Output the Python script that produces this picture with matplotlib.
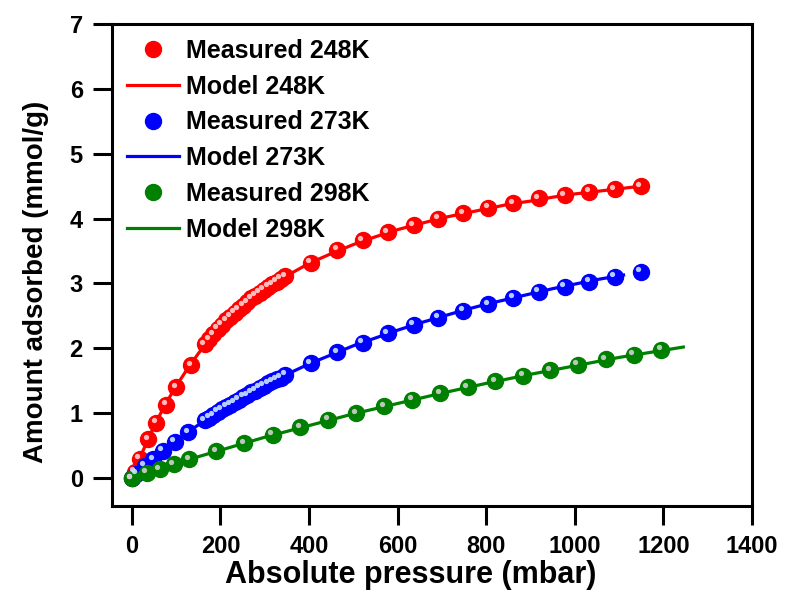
import matplotlib
matplotlib.use("Agg")
import matplotlib.pyplot as plt
from matplotlib.transforms import offset_copy

plt.rcParams['font.family'] = ['Liberation Sans', 'DejaVu Sans']
plt.rcParams['font.weight'] = 'bold'

# measured 248K
p248 = [0, 6, 18, 37, 55, 78, 100, 134,
        165, 175, 184, 194, 203, 213, 222, 232, 241, 251, 260, 270, 279, 289,
        298, 308, 317, 327, 336, 346,
        404, 464, 521, 578, 636, 692, 748, 804, 861, 918, 977, 1033, 1090, 1149]
q248 = [0, 0.10, 0.30, 0.60, 0.85, 1.13, 1.40, 1.74,
        2.06, 2.14, 2.22, 2.30, 2.36, 2.43, 2.49, 2.55, 2.60, 2.66, 2.71, 2.77, 2.81, 2.86,
        2.90, 2.95, 2.99, 3.03, 3.07, 3.11,
        3.32, 3.52, 3.67, 3.79, 3.90, 4.00, 4.08, 4.17, 4.24, 4.31, 4.36, 4.41, 4.45, 4.50]

# measured 273K
p273 = [0, 10, 29, 48, 70, 97, 127,
        165, 175, 184, 194, 203, 213, 222, 232, 241, 251, 260, 270, 279, 289,
        298, 308, 317, 327, 336, 346,
        404, 464, 521, 578, 636, 692, 748, 804, 861, 918, 977, 1033, 1090, 1149]
q273 = [0, 0.07, 0.19, 0.29, 0.42, 0.56, 0.71,
        0.89, 0.93, 0.97, 1.02, 1.06, 1.10, 1.13, 1.17, 1.21, 1.25, 1.28, 1.32, 1.35, 1.39,
        1.42, 1.46, 1.49, 1.52, 1.55, 1.59,
        1.77, 1.94, 2.09, 2.23, 2.36, 2.47, 2.58, 2.68, 2.78, 2.87, 2.95, 3.03, 3.10, 3.18]

# measured 298K
p298 = [0, 33, 63, 95, 130, 190, 254, 318, 380, 443, 507, 570, 633, 696, 758,
        820, 883, 945, 1007, 1070, 1133, 1195]
q298 = [0, 0.08, 0.14, 0.21, 0.29, 0.41, 0.54, 0.67, 0.78, 0.90, 1.00, 1.11, 1.21,
        1.31, 1.40, 1.49, 1.58, 1.66, 1.75, 1.83, 1.90, 1.98]

# model curves
m248_p = [0, 25, 50, 75, 100, 125, 150, 175, 200, 250, 300, 350, 400, 450, 500, 550,
          600, 650, 700, 750, 800, 850, 900, 950, 1000, 1050, 1100, 1150]
m248_q = [0, 0.42, 0.80, 1.13, 1.42, 1.68, 1.92, 2.14, 2.33, 2.65, 2.91, 3.12, 3.31,
          3.46, 3.60, 3.72, 3.83, 3.92, 4.01, 4.08, 4.15, 4.22, 4.27, 4.33, 4.38, 4.42, 4.46, 4.50]

m273_p = [0, 25, 50, 75, 100, 125, 150, 175, 200, 250, 300, 350, 400, 450, 500, 550,
          600, 650, 700, 750, 800, 850, 900, 950, 1000, 1050, 1110]
m273_q = [0, 0.16, 0.30, 0.44, 0.58, 0.70, 0.82, 0.93, 1.04, 1.25, 1.43, 1.60, 1.76,
          1.90, 2.04, 2.16, 2.28, 2.39, 2.49, 2.59, 2.68, 2.76, 2.84, 2.92, 2.99, 3.06, 3.13]

m298_p = [0, 50, 100, 150, 200, 300, 400, 500, 600, 700, 800, 900, 1000, 1100, 1200, 1245]
m298_q = [0, 0.11, 0.22, 0.33, 0.43, 0.63, 0.81, 0.99, 1.15, 1.31, 1.46, 1.60, 1.73,
          1.86, 1.97, 2.02]

series = [
    ("248K", p248, q248, m248_p, m248_q, "#ff0000", "#ffd0d0"),
    ("273K", p273, q273, m273_p, m273_q, "#0000ff", "#c8e4ff"),
    ("298K", p298, q298, m298_p, m298_q, "#008000", "#d0d0d0"),
]

fig = plt.figure(figsize=(7.88, 5.92), dpi=100)
ax = fig.add_axes([0.1421, 0.1453, 0.8122, 0.8142])

handles = []
labels = []
for name, px, qx, mp, mq, col, hl in series:
    ball, = ax.plot(px, qx, 'o', ms=11.5, color=col, mec=col, zorder=3)
    shine = offset_copy(ax.transData, fig=fig, x=-1.8, y=1.8, units='points')
    ax.plot(px, qx, 'o', ms=3.8, color=hl, mec='none', alpha=0.9,
            transform=shine, zorder=4)
    line, = ax.plot(mp, mq, '-', lw=2.3, color=col, zorder=2)
    handles += [ball, line]
    labels += ["Measured " + name, "Model " + name]

ax.set_xlim(-45, 1400)
ax.set_ylim(-0.43, 7)
ax.set_xticks(range(0, 1401, 200))
ax.set_yticks(range(0, 8))

for s in ax.spines.values():
    s.set_linewidth(2.2)
ax.tick_params(direction='out', length=14, width=2.2, labelsize=17, pad=7,
               top=False, right=False)
for t in ax.get_xticklabels() + ax.get_yticklabels():
    t.set_fontweight('bold')

ax.set_xlabel("Absolute pressure (mbar)", fontsize=22, fontweight='bold', labelpad=1)
ax.set_ylabel("Amount adsorbed (mmol/g)", fontsize=20, fontweight='bold', labelpad=15)
ax.xaxis.label.set_x(0.466)
ax.yaxis.label.set_y(0.465)

ax.legend(handles, labels, loc='upper left', frameon=False,
          prop={'weight': 'bold', 'size': 18}, handlelength=2.1, handletextpad=0.25,
          labelspacing=0.47, borderaxespad=0.2, bbox_to_anchor=(0.0, 1.0))

fig.savefig("out.png", dpi=100)
